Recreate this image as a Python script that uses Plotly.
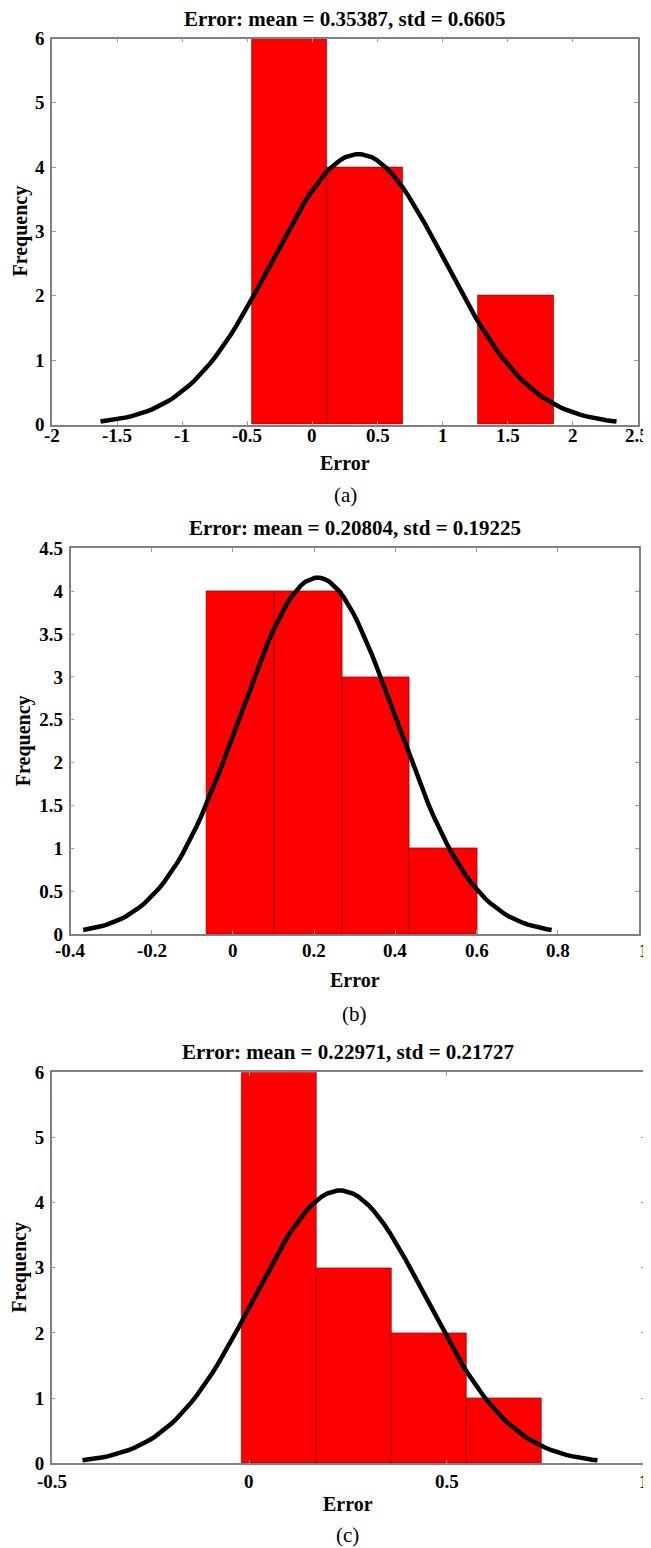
import numpy as np
import plotly.graph_objects as go

# ---------------- data ----------------
titles = ["Error: mean = 0.35387, std = 0.6605",
          "Error: mean = 0.20804, std = 0.19225",
          "Error: mean = 0.22971, std = 0.21727"]
panel_labels = ["(a)", "(b)", "(c)"]

# histogram counts per bin
counts_a = [6, 4, 0, 2]
counts_b = [4, 4, 3, 1]
counts_c = [6, 3, 2, 1]
# first bin edge and bin width
edge0_a, binw_a = -0.465, 0.58
edge0_b, binw_b = -0.065, 0.167
edge0_c, binw_c = -0.019, 0.19
# fitted normal parameters (from the titles)
mean_a, std_a = 0.35387, 0.6605
mean_b, std_b = 0.20804, 0.19225
mean_c, std_c = 0.22971, 0.21727

# axis ranges and tick values
xrange_a, xticks_a = [-2, 2.5], [-2, -1.5, -1, -0.5, 0, 0.5, 1, 1.5, 2, 2.5]
xrange_b, xticks_b = [-0.4, 1], [-0.4, -0.2, 0, 0.2, 0.4, 0.6, 0.8, 1]
xrange_c, xticks_c = [-0.5, 1], [-0.5, 0, 0.5, 1]
yrange_a, yticks_a = [0, 6], [0, 1, 2, 3, 4, 5, 6]
yrange_b, yticks_b = [0, 4.5], [0, 0.5, 1, 1.5, 2, 2.5, 3, 3.5, 4, 4.5]
yrange_c, yticks_c = [0, 6], [0, 1, 2, 3, 4, 5, 6]

panels = [
    (counts_a, edge0_a, binw_a, mean_a, std_a, xrange_a, xticks_a, yrange_a, yticks_a),
    (counts_b, edge0_b, binw_b, mean_b, std_b, xrange_b, xticks_b, yrange_b, yticks_b),
    (counts_c, edge0_c, binw_c, mean_c, std_c, xrange_c, xticks_c, yrange_c, yticks_c),
]

# ---------------- layout geometry (screen pixels) ----------------
OFF = 8                      # page body margin that shifts the plot
W, H = 651 - OFF, 1548 - OFF  # figure size so the div fits the window
# (left, right, top, bottom) of each plot area in screen pixels
boxes = [(52, 638, 38.5, 424.5), (70.5, 639, 548.3, 934), (51.7, 644.3, 1072.3, 1463.3)]
xlabel_y = [435, 950, 1481]   # centre line of x tick labels
xtitle_y = [463, 980, 1504]
plabel_y = [495, 1014, 1535]
ytitle_x = [20, 23, 20]
title_gap = 20

def px_x(v):
    return (v - OFF) / W

def px_y(v):
    return 1 - (v - OFF) / H

fig = go.Figure()
annotations = []
serif = "Liberation Serif"
tickfont = dict(family=serif, size=19, color="black", weight="bold")

for i, (counts, e0, bw, mu, sd, xr, xt, yr, yt) in enumerate(panels):
    n = sum(counts)
    centers = [e0 + bw * (k + 0.5) for k in range(len(counts))]
    xa = "x" if i == 0 else f"x{i+1}"
    ya = "y" if i == 0 else f"y{i+1}"
    fig.add_trace(go.Bar(x=centers, y=counts, width=[bw] * len(counts),
                         marker=dict(color="#FF0000",
                                     line=dict(color="rgba(110,0,0,0.75)",
                                               width=[0.8 if c > 0 else 0 for c in counts])),
                         xaxis=xa, yaxis=ya, showlegend=False, hoverinfo="skip"))
    # fitted normal curve (histfit style): 3-sigma range, scaled by n * bin width
    xs = np.linspace(mu - 3 * sd, mu + 3 * sd, 100)
    ys = n * bw * np.exp(-0.5 * ((xs - mu) / sd) ** 2) / (sd * np.sqrt(2 * np.pi))
    fig.add_trace(go.Scatter(x=xs, y=ys, mode="lines",
                             line=dict(color="black", width=4.5),
                             xaxis=xa, yaxis=ya, showlegend=False, hoverinfo="skip"))

    l, r, t, b = boxes[i]
    axis_common = dict(showline=True, linecolor="#808080", linewidth=1.5,
                       mirror="ticks", ticks="inside", ticklen=4, tickwidth=1,
                       tickcolor="#9a9a9a", showgrid=False, zeroline=False,
                       automargin=False, tickfont=tickfont)
    xkey = "xaxis" if i == 0 else f"xaxis{i+1}"
    ykey = "yaxis" if i == 0 else f"yaxis{i+1}"
    fig.update_layout({
        xkey: dict(axis_common, domain=[px_x(l), px_x(r)], range=xr,
                   tickvals=xt, showticklabels=False, anchor=ya),
        ykey: dict(axis_common, domain=[px_y(b), px_y(t)], range=yr,
                   tickvals=yt, ticktext=[f"{v:g}" for v in yt],
                   anchor=xa, ticklabelstandoff=2),
    })
    # x tick labels as text placed on the axis' data coordinates
    for j, v in enumerate(xt):
        if j < len(xt) - 1:
            annotations.append(dict(text=f"{v:g}", x=v, xref=xa, y=px_y(xlabel_y[i]),
                                    yref="paper", showarrow=False, xanchor="center",
                                    yanchor="middle", font=tickfont))
        else:  # last label sits flush with the right edge of the page
            annotations.append(dict(text=f"{v:g}", x=px_x(651), xref="paper",
                                    y=px_y(xlabel_y[i]), yref="paper", showarrow=False,
                                    xanchor="right", yanchor="middle", font=tickfont))
    cx = (l + r) / 2
    annotations.append(dict(text=titles[i], x=px_x(cx), y=px_y(t - title_gap),
                            xref="paper", yref="paper", showarrow=False,
                            xanchor="center", yanchor="middle",
                            font=dict(family=serif, size=21, color="black", weight="bold")))
    annotations.append(dict(text="Error", x=px_x(cx), y=px_y(xtitle_y[i]),
                            xref="paper", yref="paper", showarrow=False,
                            xanchor="center", yanchor="middle",
                            font=dict(family=serif, size=20, color="black", weight="bold")))
    annotations.append(dict(text="Frequency", x=px_x(ytitle_x[i]), y=px_y((t + b) / 2),
                            xref="paper", yref="paper", showarrow=False, textangle=-90,
                            xanchor="center", yanchor="middle",
                            font=dict(family=serif, size=20, color="black", weight="bold")))
    annotations.append(dict(text=panel_labels[i], x=px_x(cx), y=px_y(plabel_y[i]),
                            xref="paper", yref="paper", showarrow=False,
                            xanchor="center", yanchor="middle",
                            font=dict(family=serif, size=21, color="black")))

fig.update_layout(template="none", width=W, height=H, autosize=False,
                  margin=dict(l=0, r=0, t=0, b=0, pad=0),
                  paper_bgcolor="white", plot_bgcolor="white",
                  bargap=0, annotations=annotations)

fig.write_html("out.html")
